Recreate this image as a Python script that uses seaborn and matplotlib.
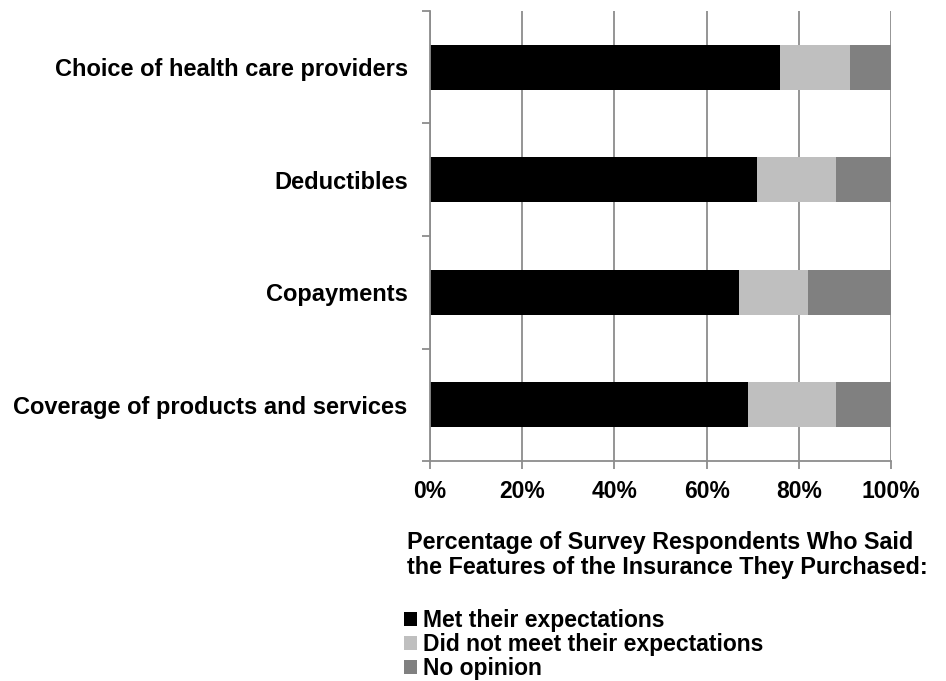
import matplotlib
matplotlib.use("Agg")
import matplotlib.pyplot as plt
import seaborn as sns
import pandas as pd
from matplotlib.patches import Patch

# Data (percent of respondents)
features = ["Choice of health care providers", "Deductibles",
            "Copayments", "Coverage of products and services"]
met = [76, 71, 67, 69]
not_met = [15, 17, 15, 19]
no_opinion = [9, 12, 18, 12]
series_names = ["Met their expectations", "Did not meet their expectations",
                "No opinion"]
series_colors = ["#000000", "#bfbfbf", "#808080"]
x_ticks = [0, 20, 40, 60, 80, 100]

sns.set_style("white")
plt.rcParams["font.family"] = ["Liberation Sans", "DejaVu Sans"]
plt.rcParams["font.weight"] = "bold"
plt.rcParams["text.color"] = "black"
plt.rcParams["xtick.color"] = "black"
plt.rcParams["ytick.color"] = "black"

df = pd.DataFrame({"feature": features, "met": met,
                   "not_met": not_met, "no_opinion": no_opinion})
# cumulative sums so the layers stack
df["cum2"] = df["met"] + df["not_met"]
df["cum3"] = df["cum2"] + df["no_opinion"]

fig = plt.figure(figsize=(9.46, 6.81), dpi=100)
ax = fig.add_axes([0.4545, 0.323, 0.4875, 0.661])

grid_col = "#8c8c8c"
ax.set_axisbelow(True)
ax.grid(axis="x", color=grid_col, linewidth=1.3)

# draw the totals first, then the smaller stacks on top
for col, c in [("cum3", series_colors[2]), ("cum2", series_colors[1]),
               ("met", series_colors[0])]:
    sns.barplot(data=df, x=col, y="feature", orient="h", color=c,
                width=0.4, saturation=1, edgecolor="none", ax=ax)

ax.set_xlim(0, 100)
ax.set_ylim(3.5, -0.5)
ax.set_xticks(x_ticks)
ax.set_xticklabels([f"{t}%" for t in x_ticks], fontsize=16.5, fontweight="bold")
ax.set_yticks(range(len(features)))
ax.set_yticklabels(features, fontsize=17, fontweight="bold")
ax.set_yticks([-0.5, 0.5, 1.5, 2.5, 3.5], minor=True)
ax.tick_params(axis="y", which="major", length=0, pad=16)
ax.tick_params(axis="y", which="minor", length=6, width=1.3, color=grid_col, left=True)
ax.tick_params(axis="x", length=6, width=1.3, color=grid_col, bottom=True, pad=8)
ax.set_xlabel("")
ax.set_ylabel("")

for side in ["top", "right"]:
    ax.spines[side].set_visible(False)
for side in ["left", "bottom"]:
    ax.spines[side].set_color(grid_col)
    ax.spines[side].set_linewidth(1.3)

fig.text(0.430, 0.150, "Percentage of Survey Respondents Who Said\n"
         "the Features of the Insurance They Purchased:",
         fontsize=16.8, fontweight="bold", ha="left", va="bottom",
         linespacing=1.1)

handles = [Patch(facecolor=c, edgecolor="none") for c in series_colors]
fig.legend(handles, series_names, loc="upper left",
           bbox_to_anchor=(0.427, 0.106), frameon=False, fontsize=16.5,
           handlelength=0.55, handleheight=0.55, handletextpad=0.3,
           labelspacing=0.05, borderaxespad=0, borderpad=0)

fig.savefig("out.png", dpi=100)
